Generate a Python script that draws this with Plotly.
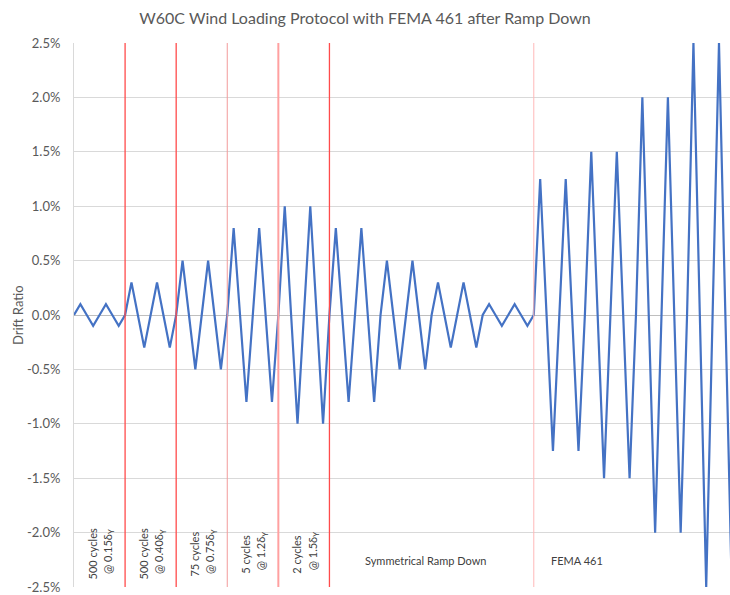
import plotly.graph_objects as go

# Drift ratio (%) at each quarter-cycle point of the protocol
drift = [
    0, 0.1, 0, -0.1, 0, 0.1, 0, -0.1,        # 500 cycles @ 0.15dy
    0, 0.3, 0, -0.3, 0, 0.3, 0, -0.3,        # 500 cycles @ 0.40dy
    0, 0.5, 0, -0.5, 0, 0.5, 0, -0.5,        # 75 cycles @ 0.75dy
    0, 0.8, 0, -0.8, 0, 0.8, 0, -0.8,        # 5 cycles @ 1.2dy
    0, 1.0, 0, -1.0, 0, 1.0, 0, -1.0,        # 2 cycles @ 1.5dy
    0, 0.8, 0, -0.8, 0, 0.8, 0, -0.8,        # ramp down
    0, 0.5, 0, -0.5, 0, 0.5, 0, -0.5,
    0, 0.3, 0, -0.3, 0, 0.3, 0, -0.3,
    0, 0.1, 0, -0.1, 0, 0.1, 0, -0.1,
    0, 1.25, 0, -1.25, 0, 1.25, 0, -1.25,    # FEMA 461
    0, 1.5, 0, -1.5, 0, 1.5, 0, -1.5,
    0, 2.0, 0, -2.0, 0, 2.0, 0, -2.0,
    0, 2.5, 0, -2.5, 0, 2.5, 0, -2.5,
    0,
]
step = list(range(len(drift)))

# Phase boundaries (step index) and their line colours
boundaries = [8, 16, 24, 32, 40, 72]
boundary_colors = ["#ff4b4b", "#ff4b4b", "#f29a9a", "#ffa0a0", "#ff4b4b", "#ffb8b8"]
boundary_widths = [1.3, 1.3, 1.0, 2.0, 1.3, 1.0]

# Rotated phase labels (two lines each)
phase_line1 = ["500 cycles", "500 cycles", "75 cycles", "5 cycles", "2 cycles"]
phase_line2 = ["@ 0.15δ<sub>Y</sub>", "@ 0.40δ<sub>Y</sub>", "@ 0.75δ<sub>Y</sub>",
               "@ 1.2δ<sub>Y</sub>", "@ 1.5δ<sub>Y</sub>"]
phase_centers = [4, 12, 20, 28, 36]

tick_vals = [2.5, 2.0, 1.5, 1.0, 0.5, 0.0, -0.5, -1.0, -1.5, -2.0, -2.5]
tick_text = ["2.5%", "2.0%", "1.5%", "1.0%", "0.5%", "0.0%", "-0.5%", "-1.0%", "-1.5%", "-2.0%", "-2.5%"]

FONT = "Lato"
GREY = "#595959"
DARK = "#404040"

fig = go.Figure()
fig.add_trace(go.Scatter(x=step, y=drift, mode="lines",
                         line=dict(color="#4472C4", width=2.2), hoverinfo="skip"))

for b, c, w in zip(boundaries, boundary_colors, boundary_widths):
    fig.add_shape(type="line", xref="x", yref="y", x0=b, x1=b, y0=-2.5, y1=2.5,
                  line=dict(color=c, width=w), layer="above")

for l1, l2, cx in zip(phase_line1, phase_line2, phase_centers):
    fig.add_annotation(x=cx, y=-2.2, xref="x", yref="y", text=l1, showarrow=False,
                       textangle=-90, font=dict(family=FONT, size=11, color=DARK),
                       xanchor="center", yanchor="middle", xshift=-7.5)
    fig.add_annotation(x=cx, y=-2.2, xref="x", yref="y", text=l2, showarrow=False,
                       textangle=-90, font=dict(family=FONT, size=11, color=DARK),
                       xanchor="center", yanchor="middle", xshift=9, yshift=3)

fig.add_annotation(x=55, y=-2.253, xref="x", yref="y", text="Symmetrical Ramp Down",
                   showarrow=False, font=dict(family=FONT, size=11, color=DARK))
fig.add_annotation(x=78.7, y=-2.253, xref="x", yref="y", text="FEMA 461",
                   showarrow=False, font=dict(family=FONT, size=11, color=DARK))

plot_w = 730 - 74
fig.add_annotation(x=-(74 - 18) / plot_w, y=0.5, xref="paper", yref="paper",
                   text="Drift Ratio", showarrow=False, textangle=-90,
                   font=dict(family=FONT, size=13, color=GREY),
                   xanchor="center", yanchor="middle")

fig.update_layout(
    width=730, height=595,
    margin=dict(l=74, r=0, t=43, b=6),
    paper_bgcolor="white", plot_bgcolor="white",
    showlegend=False,
    title=dict(text="W60C Wind Loading Protocol with FEMA 461 after Ramp Down",
               x=0.5, xanchor="center", y=1 - 18 / 595, yanchor="middle",
               font=dict(family=FONT, size=16, color=GREY)),
    xaxis=dict(range=[0, plot_w / 6.386], showgrid=False, zeroline=False,
               showticklabels=False, showline=False, fixedrange=True),
    yaxis=dict(range=[-2.5, 2.5], tickvals=tick_vals, ticktext=tick_text,
               showgrid=True, gridcolor="#d9d9d9", gridwidth=1,
               zeroline=True, zerolinecolor="#bfbfbf", zerolinewidth=1,
               showline=True, linecolor="#d9d9d9", linewidth=1,
               ticks="", ticklabelstandoff=10, ticklabeloverflow="allow",
               tickfont=dict(family=FONT, size=13, color=GREY), fixedrange=True),
)

fig.write_html("out.html")
